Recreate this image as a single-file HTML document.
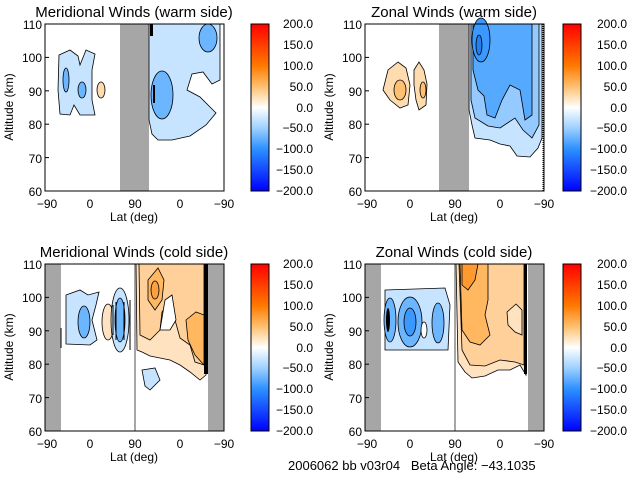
<!DOCTYPE html>
<html><head><meta charset="utf-8"><style>
body{margin:0;background:#fff}
svg{display:block}
text{font-family:"Liberation Sans",sans-serif;fill:#000}
</style></head><body>
<svg width="640" height="480" viewBox="0 0 640 480" xmlns="http://www.w3.org/2000/svg">
<defs>
<linearGradient id="cb" x1="0" y1="0" x2="0" y2="1">
<stop offset="0" stop-color="#ff0000"/>
<stop offset="0.25" stop-color="#ff7a00"/>
<stop offset="0.375" stop-color="#ffc070"/>
<stop offset="0.5" stop-color="#ffffff"/>
<stop offset="0.625" stop-color="#9ccfff"/>
<stop offset="0.75" stop-color="#2a90ff"/>
<stop offset="1" stop-color="#0000ff"/>
</linearGradient>
<g id="axes">
<rect x="45" y="24" width="179" height="167" fill="none" stroke="#000" stroke-width="1"/>
<g font-size="12" text-anchor="end">
<text x="42" y="196">60</text><text x="42" y="163">70</text><text x="42" y="129">80</text>
<text x="42" y="96">90</text><text x="42" y="62">100</text><text x="42" y="29">110</text>
</g>
<g stroke="#000"><line x1="45" y1="57.4" x2="49" y2="57.4"/><line x1="45" y1="90.8" x2="49" y2="90.8"/><line x1="45" y1="124.2" x2="49" y2="124.2"/><line x1="45" y1="157.6" x2="49" y2="157.6"/></g>
<g font-size="12" text-anchor="middle">
<text x="47" y="208">−90</text><text x="90" y="208">0</text><text x="135" y="208">90</text><text x="180" y="208">0</text><text x="224" y="208">−90</text>
<text x="134" y="221">Lat (deg)</text>
</g>
<text font-size="12" text-anchor="middle" transform="translate(13,107) rotate(-90)">Altitude (km)</text>
</g>
</defs>

<!-- Panel 1: Meridional warm -->
<g>
<rect x="120" y="24" width="29" height="167" fill="#a6a6a6"/>
<path d="M149,24 L220,24 L220,80 L212,84 L203,72 L192,74 L187,90 L200,97 L216,113 L206,125 L190,136 L172,140 L158,140 L152,134 L149,120 Z" fill="#c6e3ff" stroke="#000" stroke-width="0.8"/>
<ellipse cx="162" cy="95" rx="11" ry="24" fill="#6cb6ff" stroke="#000" stroke-width="0.8"/>
<ellipse cx="208" cy="38" rx="9" ry="14" fill="#6cb6ff" stroke="#000" stroke-width="0.8"/>
<rect x="150" y="24" width="3" height="12" fill="#000"/>
<rect x="153" y="85" width="2" height="18" fill="#000"/>
<path d="M59,55 L70,50 L78,56 L80,65 L86,50 L95,54 L92,70 L92,100 L95,115 L80,115 L74,105 L70,115 L60,114 L58,90 Z" fill="#c6e3ff" stroke="#000" stroke-width="0.8"/>
<ellipse cx="66" cy="80" rx="3" ry="12" fill="#6cb6ff" stroke="#000" stroke-width="0.8"/>
<ellipse cx="82" cy="90" rx="4" ry="8" fill="#6cb6ff" stroke="#000" stroke-width="0.8"/>
<ellipse cx="101" cy="90" rx="4" ry="8" fill="#ffdcb0" stroke="#000" stroke-width="0.8"/>
<use href="#axes"/>
<text x="134" y="17" font-size="15" text-anchor="middle">Meridional Winds (warm side)</text>
<rect x="251" y="24" width="18" height="167" fill="url(#cb)" stroke="#000"/>
</g>

<!-- Panel 2: Zonal warm -->
<g transform="translate(320,0)">
<rect x="119" y="24" width="30" height="167" fill="#a6a6a6"/>
<path d="M149,24 L222,24 L222,138 L218,148 L210,157 L197,156 L190,146 L180,144 L170,140 L155,138 L152,125 L149,110 Z" fill="#c6e3ff" stroke="#000" stroke-width="0.8"/>
<path d="M151,24 L219,24 L219,125 L212,138 L203,130 L195,118 L180,128 L168,126 L155,118 L151,100 Z" fill="#94caff" stroke="#000" stroke-width="0.8"/>
<path d="M153,24 L212,24 L212,115 L205,120 L200,90 L190,85 L182,100 L175,118 L167,115 L164,96 L158,90 L153,70 Z" fill="#55aaff" stroke="#000" stroke-width="0.8"/>
<ellipse cx="161" cy="40" rx="9" ry="22" fill="#3a98ff" stroke="#000" stroke-width="0.8"/>
<ellipse cx="159" cy="45" rx="3" ry="10" fill="#2080f0" stroke="#000" stroke-width="0.8"/>
<path d="M63,90 L68,70 L78,62 L86,68 L90,85 L88,105 L80,108 L70,100 Z" fill="#ffdcb0" stroke="#000" stroke-width="0.8"/>
<path d="M94,70 L99,62 L104,70 L107,84 L106,105 L99,110 L96,100 L94,85 Z" fill="#ffdcb0" stroke="#000" stroke-width="0.8"/>
<ellipse cx="80" cy="90" rx="6" ry="10" fill="#ffc070" stroke="#000" stroke-width="0.8"/>
<ellipse cx="103" cy="90" rx="3" ry="8" fill="#ffc070" stroke="#000" stroke-width="0.8"/>
<line x1="223" y1="24" x2="223" y2="191" stroke="#000" stroke-dasharray="1,1"/>
<use href="#axes"/>
<text x="134" y="17" font-size="15" text-anchor="middle">Zonal Winds (warm side)</text>
<rect x="243" y="24" width="18" height="167" fill="url(#cb)" stroke="#000"/>
</g>

<!-- Panel 3: Meridional cold -->
<g transform="translate(0,240)">
<rect x="45" y="24" width="16" height="167" fill="#a6a6a6"/>
<rect x="208" y="24" width="16" height="167" fill="#a6a6a6"/>
<rect x="134" y="24" width="2" height="167" fill="#a6a6a6"/>
<path d="M136,24 L206,24 L206,135 L200,140 L190,132 L180,125 L170,120 L160,118 L150,116 L142,112 L137,110 Z" fill="#ffe2c0" stroke="#000" stroke-width="0.8"/>
<path d="M139,24 L204,24 L204,125 L195,122 L190,105 L180,98 L175,80 L170,60 L162,72 L160,90 L150,100 L140,95 Z" fill="#ffd09a" stroke="#000" stroke-width="0.8"/>
<path d="M186,80 L196,72 L204,75 L204,125 L195,115 L188,100 Z" fill="#ffb860" stroke="#000" stroke-width="0.8"/>
<path d="M148,40 L158,28 L164,40 L162,60 L155,70 L148,60 Z" fill="#ffb860" stroke="#000" stroke-width="0.8"/>
<ellipse cx="155" cy="50" rx="4" ry="9" fill="#ffa040" stroke="#000" stroke-width="0.8"/>
<path d="M165,60 L172,55 L176,80 L170,90 L160,90 Z" fill="#fff" stroke="#000" stroke-width="0.8"/>
<rect x="204" y="24" width="4" height="110" fill="#000"/>
<path d="M142,130 L155,128 L160,140 L150,150 L145,146 Z" fill="#c6e3ff" stroke="#000" stroke-width="0.8"/>
<path d="M66,55 L80,50 L88,55 L99,52 L96,65 L92,80 L97,100 L90,105 L66,104 Z" fill="#c6e3ff" stroke="#000" stroke-width="0.8"/>
<ellipse cx="84" cy="82" rx="6" ry="16" fill="#6cb6ff" stroke="#000" stroke-width="0.8"/>
<ellipse cx="108" cy="82" rx="6" ry="18" fill="#ffe2c0" stroke="#000" stroke-width="0.8"/>
<ellipse cx="120" cy="80" rx="9" ry="32" fill="#c6e3ff" stroke="#000" stroke-width="0.8"/>
<ellipse cx="120" cy="80" rx="5" ry="22" fill="#6cb6ff" stroke="#000" stroke-width="0.8"/>
<g stroke="#000" stroke-width="1"><line x1="113" y1="65" x2="113" y2="95"/><line x1="116" y1="62" x2="116" y2="100"/><line x1="124" y1="62" x2="124" y2="100"/><line x1="130" y1="60" x2="130" y2="110"/><line x1="61" y1="88" x2="61" y2="108"/></g>
<use href="#axes"/>
<text x="134" y="17" font-size="15" text-anchor="middle">Meridional Winds (cold side)</text>
<rect x="251" y="24" width="18" height="167" fill="url(#cb)" stroke="#000"/>
</g>

<!-- Panel 4: Zonal cold -->
<g transform="translate(320,240)">
<rect x="45" y="24" width="16" height="167" fill="#a6a6a6"/>
<rect x="208" y="24" width="16" height="167" fill="#a6a6a6"/>
<rect x="134" y="24" width="2" height="167" fill="#a6a6a6"/>
<path d="M136,24 L206,24 L206,135 L200,125 L190,130 L178,130 L165,136 L152,138 L145,132 L138,122 Z" fill="#ffe2c0" stroke="#000" stroke-width="0.8"/>
<path d="M139,24 L204,24 L204,125 L195,122 L180,120 L165,126 L150,125 L142,110 Z" fill="#ffd09a" stroke="#000" stroke-width="0.8"/>
<path d="M187,72 L196,64 L202,70 L202,95 L195,92 L188,85 Z" fill="#ffe2c0" stroke="#000" stroke-width="0.8"/>
<path d="M140,24 L168,24 L168,60 L165,75 L170,95 L160,105 L150,102 L142,90 Z" fill="#ffb860" stroke="#000" stroke-width="0.8"/>
<path d="M142,24 L158,24 L155,40 L148,50 L142,45 Z" fill="#ff9a30" stroke="#000" stroke-width="0.8"/>
<rect x="204" y="24" width="3" height="110" fill="#000"/>
<path d="M65,50 L125,48 L130,65 L128,110 L65,110 Z" fill="#c6e3ff" stroke="#000" stroke-width="0.8"/>
<ellipse cx="70" cy="80" rx="6" ry="22" fill="#6cb6ff" stroke="#000" stroke-width="0.8"/>
<ellipse cx="90" cy="82" rx="12" ry="25" fill="#6cb6ff" stroke="#000" stroke-width="0.8"/>
<ellipse cx="90" cy="82" rx="6" ry="14" fill="#3a98ff" stroke="#000" stroke-width="0.8"/>
<ellipse cx="118" cy="83" rx="6" ry="20" fill="#6cb6ff" stroke="#000" stroke-width="0.8"/>
<ellipse cx="68" cy="80" rx="2" ry="12" fill="#000"/>
<ellipse cx="104" cy="90" rx="3" ry="8" fill="#fff" stroke="#000" stroke-width="0.8"/>
<use href="#axes"/>
<text x="134" y="17" font-size="15" text-anchor="middle">Zonal Winds (cold side)</text>
<rect x="243" y="24" width="18" height="167" fill="url(#cb)" stroke="#000"/>
</g>

<!-- colorbar labels -->
<g font-size="12" text-anchor="end">
<text x="313" y="28">200.0</text><text x="313" y="49">150.0</text><text x="313" y="70">100.0</text><text x="313" y="91">50.0</text><text x="313" y="112">0.0</text><text x="313" y="132">−50.0</text><text x="313" y="153">−100.0</text><text x="313" y="174">−150.0</text><text x="313" y="195">−200.0</text>
<text x="627" y="28">200.0</text><text x="627" y="49">150.0</text><text x="627" y="70">100.0</text><text x="627" y="91">50.0</text><text x="627" y="112">0.0</text><text x="627" y="132">−50.0</text><text x="627" y="153">−100.0</text><text x="627" y="174">−150.0</text><text x="627" y="195">−200.0</text>
<g transform="translate(0,240)">
<text x="313" y="28">200.0</text><text x="313" y="49">150.0</text><text x="313" y="70">100.0</text><text x="313" y="91">50.0</text><text x="313" y="112">0.0</text><text x="313" y="132">−50.0</text><text x="313" y="153">−100.0</text><text x="313" y="174">−150.0</text><text x="313" y="195">−200.0</text>
<text x="627" y="28">200.0</text><text x="627" y="49">150.0</text><text x="627" y="70">100.0</text><text x="627" y="91">50.0</text><text x="627" y="112">0.0</text><text x="627" y="132">−50.0</text><text x="627" y="153">−100.0</text><text x="627" y="174">−150.0</text><text x="627" y="195">−200.0</text>
</g>
</g>
<text x="288" y="470" font-size="13" xml:space="preserve">2006062 bb v03r04   Beta Angle: −43.1035</text>
</svg>
</body></html>
